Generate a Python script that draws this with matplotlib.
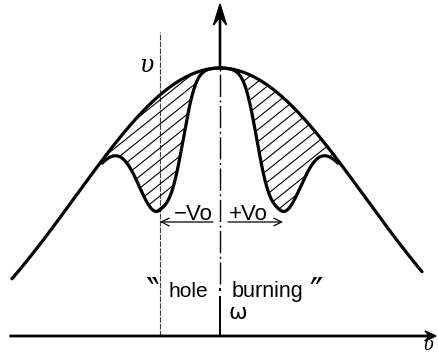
import numpy as np
import matplotlib.pyplot as plt
from matplotlib.collections import LineCollection
from matplotlib.patches import Polygon

# drawing units: one unit per pixel, origin at the foot of the centre line
nu_left, nu_right = -208, 202      # ends of the Doppler profile
doppler_peak = 268
doppler_base = -60
doppler_sigma = 145

# holes burned at -V0 and +V0
hole_centres = [-60, 60]
hole_depth = 115
hole_outer_width = 30
hole_inner_width = 27
hole_inner_power = 3

# extent of the burned (hatched) part
burn_left, burn_right = -118, 118


def doppler(x):
    amp = doppler_peak - doppler_base
    return doppler_base + amp * np.exp(-x**2 / (2 * doppler_sigma**2))


def holes(x):
    h = np.zeros_like(x)
    for c in hole_centres:
        d = x - c
        outer = d * c > 0
        h += np.where(outer,
                      hole_depth * np.exp(-(np.abs(d) / hole_outer_width)**2),
                      hole_depth * np.exp(-(np.abs(d) / hole_inner_width)**hole_inner_power))
    return h


fig = plt.figure(figsize=(4.38, 3.62), dpi=100)
ax = fig.add_axes([0, 0, 1, 1])
ax.set_xlim(-220, 218)
ax.set_ylim(-26, 336)
ax.axis('off')

x = np.linspace(nu_left, nu_right, 600)
ax.plot(x, doppler(x), color='black', lw=2.3, solid_capstyle='round', zorder=4)

xb = np.linspace(burn_left, burn_right, 500)
burned = doppler(xb) - holes(xb)
ax.plot(xb, burned, color='black', lw=2.3, solid_capstyle='round', zorder=4)

# hatching between the Doppler profile and the burned profile
region = Polygon(np.column_stack([np.r_[xb, xb[::-1]],
                                  np.r_[doppler(xb), burned[::-1]]]),
                 closed=True, facecolor='none', edgecolor='none')
ax.add_patch(region)
offsets = np.arange(-400, 400, 12)
segs = [[(-150, -0.8 * 150 + c), (150, 0.8 * 150 + c)] for c in offsets]
hatch = LineCollection(segs, colors='black', linewidths=0.8, zorder=3)
ax.add_collection(hatch)
hatch.set_clip_path(region)

# axes with arrows
ax.arrow(-210, 0, 426, 0, width=1.4, head_width=10, head_length=11,
         overhang=0.35, length_includes_head=True, color='black', zorder=5)
ax.arrow(0, doppler_peak, 0, 332 - doppler_peak, width=1.2, head_width=13,
         head_length=21, overhang=0.35, length_includes_head=True,
         color='black', zorder=5)
ax.plot([0, 0], [0, 39], color='black', lw=1.4)
ax.plot([0, 0], [46, 47], color='black', lw=1.4)
ax.plot([0, 0], [52, doppler_peak], color='black', lw=1.0,
        linestyle=(0, (16, 2.5, 1.5, 2.5)))

# line marking -V0
ax.plot([hole_centres[0]] * 2, [0, 304], color='0.25', lw=0.8,
        linestyle=(0, (5, 1.2)))

# +/- V0 arrows
arrow_kw = dict(arrowstyle='->', color='black', lw=0.9,
                mutation_scale=14, shrinkA=0, shrinkB=0)
ax.annotate('', xy=(hole_centres[0], 114), xytext=(-7, 114), arrowprops=arrow_kw)
ax.annotate('', xy=(hole_centres[1] + 3, 114), xytext=(8, 114), arrowprops=arrow_kw)

sans = dict(family='Liberation Sans', color='black')
ax.text(-27, 122, '\u2212Vo', ha='center', va='center', fontsize=16, **sans)
ax.text(28, 122, '+Vo', ha='center', va='center', fontsize=16, **sans)
ax.text(-32, 39, 'hole', ha='center', va='baseline', fontsize=15, **sans)
ax.text(47, 39, 'burning', ha='center', va='baseline', fontsize=15.5, **sans)
ax.text(-68, 43, '\u2036', ha='center', va='center', fontsize=26, family='DejaVu Sans')
ax.text(96, 43, '\u2033', ha='center', va='center', fontsize=26, family='DejaVu Sans')
ax.text(8, 23, '\u03c9', ha='left', va='center', fontsize=16, family='DejaVu Sans')

serif_it = dict(family='DejaVu Serif', style='italic', color='black')
ax.text(-74, 270, '\u03c5', ha='center', va='center', fontsize=17, **serif_it)
ax.text(208, -9, '\u03c5', ha='center', va='center', fontsize=13, **serif_it)

fig.savefig('out.png', dpi=100)
